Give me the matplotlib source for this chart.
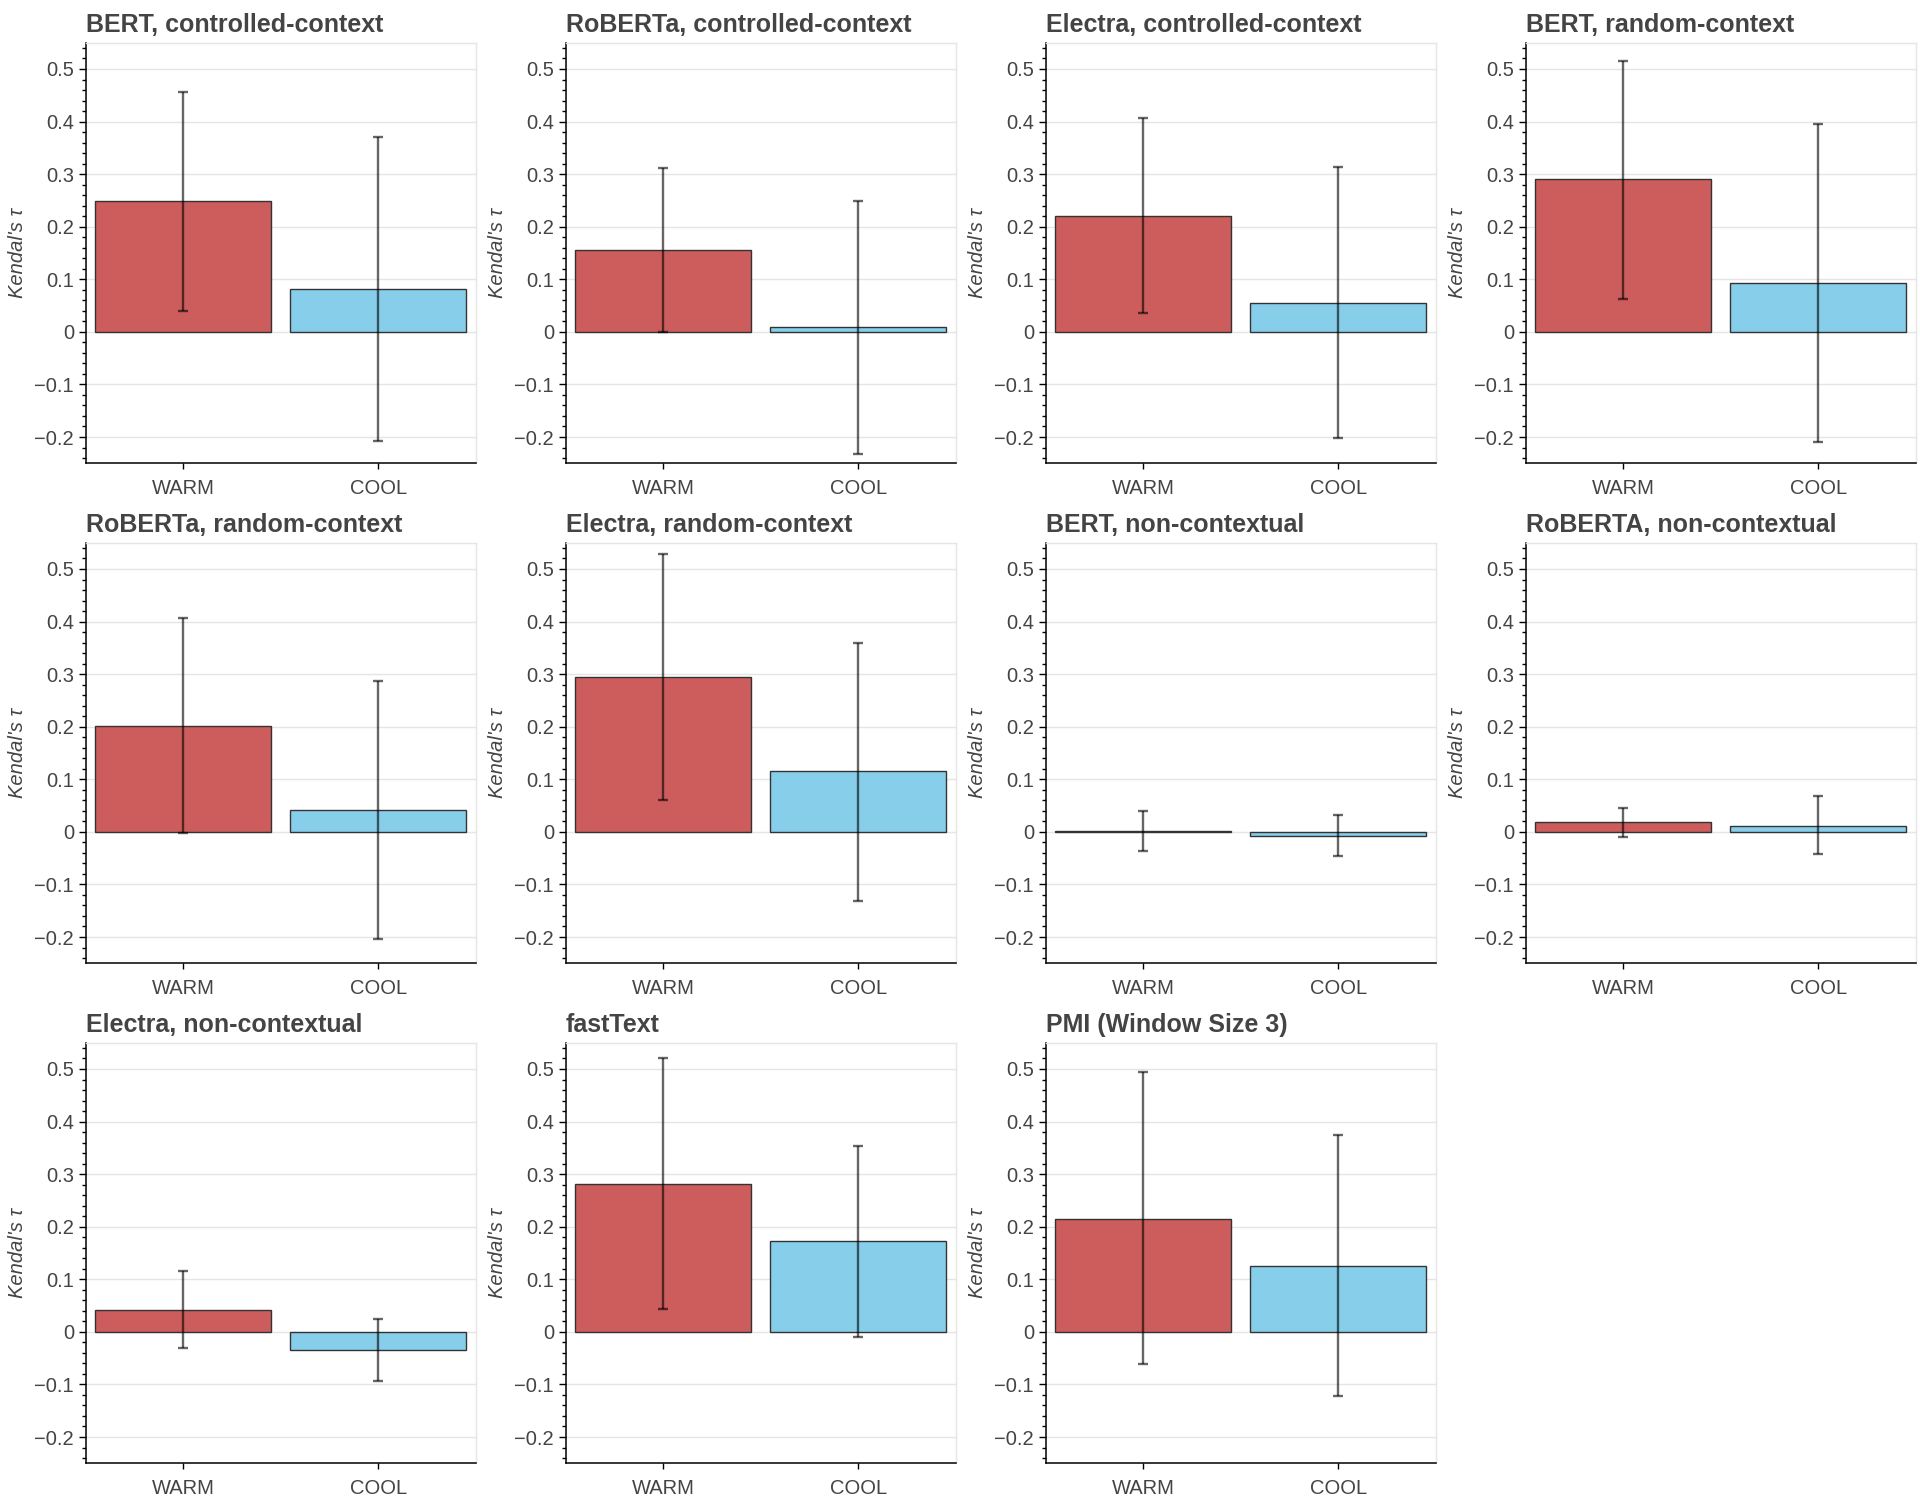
import matplotlib
matplotlib.use("Agg")
import matplotlib.pyplot as plt
from matplotlib.ticker import MultipleLocator, FixedLocator, FixedFormatter

plt.rcParams['font.family'] = ['Liberation Sans', 'DejaVu Sans']

# data
titles = ["BERT, controlled-context", "RoBERTa, controlled-context", "Electra, controlled-context",
          "BERT, random-context", "RoBERTa, random-context", "Electra, random-context",
          "BERT, non-contextual", "RoBERTA, non-contextual", "Electra, non-contextual",
          "fastText", "PMI (Window Size 3)"]
categories = ["WARM", "COOL"]

warm_mean = [0.248, 0.156, 0.220, 0.290, 0.202, 0.294, 0.001, 0.018, 0.042, 0.281, 0.215]
warm_low = [0.040, 0.000, 0.035, 0.063, -0.003, 0.060, -0.037, -0.010, -0.031, 0.043, -0.062]
warm_high = [0.456, 0.312, 0.406, 0.516, 0.406, 0.528, 0.039, 0.046, 0.116, 0.520, 0.494]

cool_mean = [0.081, 0.009, 0.055, 0.092, 0.041, 0.115, -0.007, 0.012, -0.035, 0.172, 0.126]
cool_low = [-0.208, -0.232, -0.202, -0.209, -0.204, -0.132, -0.046, -0.043, -0.094, -0.010, -0.122]
cool_high = [0.370, 0.249, 0.313, 0.395, 0.287, 0.360, 0.033, 0.068, 0.024, 0.354, 0.374]

y_major = [-0.2, -0.1, 0.0, 0.1, 0.2, 0.3, 0.4, 0.5]
y_labels = ["\u22120.2", "\u22120.1", "0", "0.1", "0.2", "0.3", "0.4", "0.5"]

bar_colors = ["#CD5C5C", "#87CEEB"]
text_col = "#444444"
grid_col = "#e5e5e5"

W, H = 1920, 1500
fig = plt.figure(figsize=(W / 100, H / 100), dpi=100)

col_left = [85.7, 565.7, 1045.7, 1525.7]
row_top = [42.7, 542.7, 1042.7]
ax_w, ax_h = 390, 420.6

for i, title in enumerate(titles):
    r, c = divmod(i, 4)
    ax = fig.add_axes([col_left[c] / W, 1 - (row_top[r] + ax_h) / H, ax_w / W, ax_h / H])

    means = [warm_mean[i], cool_mean[i]]
    lows = [warm_mean[i] - warm_low[i], cool_mean[i] - cool_low[i]]
    highs = [warm_high[i] - warm_mean[i], cool_high[i] - cool_mean[i]]
    x = range(len(categories))

    ax.bar(x, means, width=0.9, color=bar_colors, edgecolor="#333333", linewidth=1.0, zorder=2)
    ax.errorbar(x, means, yerr=[lows, highs], fmt="none", ecolor="black", alpha=0.6,
                elinewidth=1.7, capsize=3.8, capthick=1.7, zorder=3)

    ax.set_xlim(-0.5, 1.5)
    ax.set_ylim(-0.25, 0.55)

    ax.yaxis.set_major_locator(FixedLocator(y_major))
    ax.yaxis.set_major_formatter(FixedFormatter(y_labels))
    ax.yaxis.set_minor_locator(MultipleLocator(0.02))
    ax.set_xticks(list(x))
    ax.set_xticklabels(categories)

    ax.grid(axis="y", which="major", color=grid_col, linewidth=1.0)
    ax.set_axisbelow(True)

    for side in ["top", "right"]:
        ax.spines[side].set_color(grid_col)
        ax.spines[side].set_linewidth(1.0)
    for side in ["left", "bottom"]:
        ax.spines[side].set_color("black")
        ax.spines[side].set_linewidth(1.1)

    ax.tick_params(axis="y", which="major", direction="out", length=5, width=1,
                   labelsize=14.5, labelcolor=text_col, pad=3.5)
    ax.tick_params(axis="y", which="minor", direction="out", length=3, width=1)
    ax.tick_params(axis="x", which="major", direction="out", length=4.5, width=1,
                   labelsize=14.5, labelcolor=text_col, pad=7)

    ax.set_ylabel("Kendal's \u03c4", fontsize=14.5, color=text_col, style="italic", labelpad=5)
    ax.set_title(title, loc="left", fontsize=18, fontweight="bold", color=text_col, pad=8)

fig.savefig("out.png", dpi=100)
